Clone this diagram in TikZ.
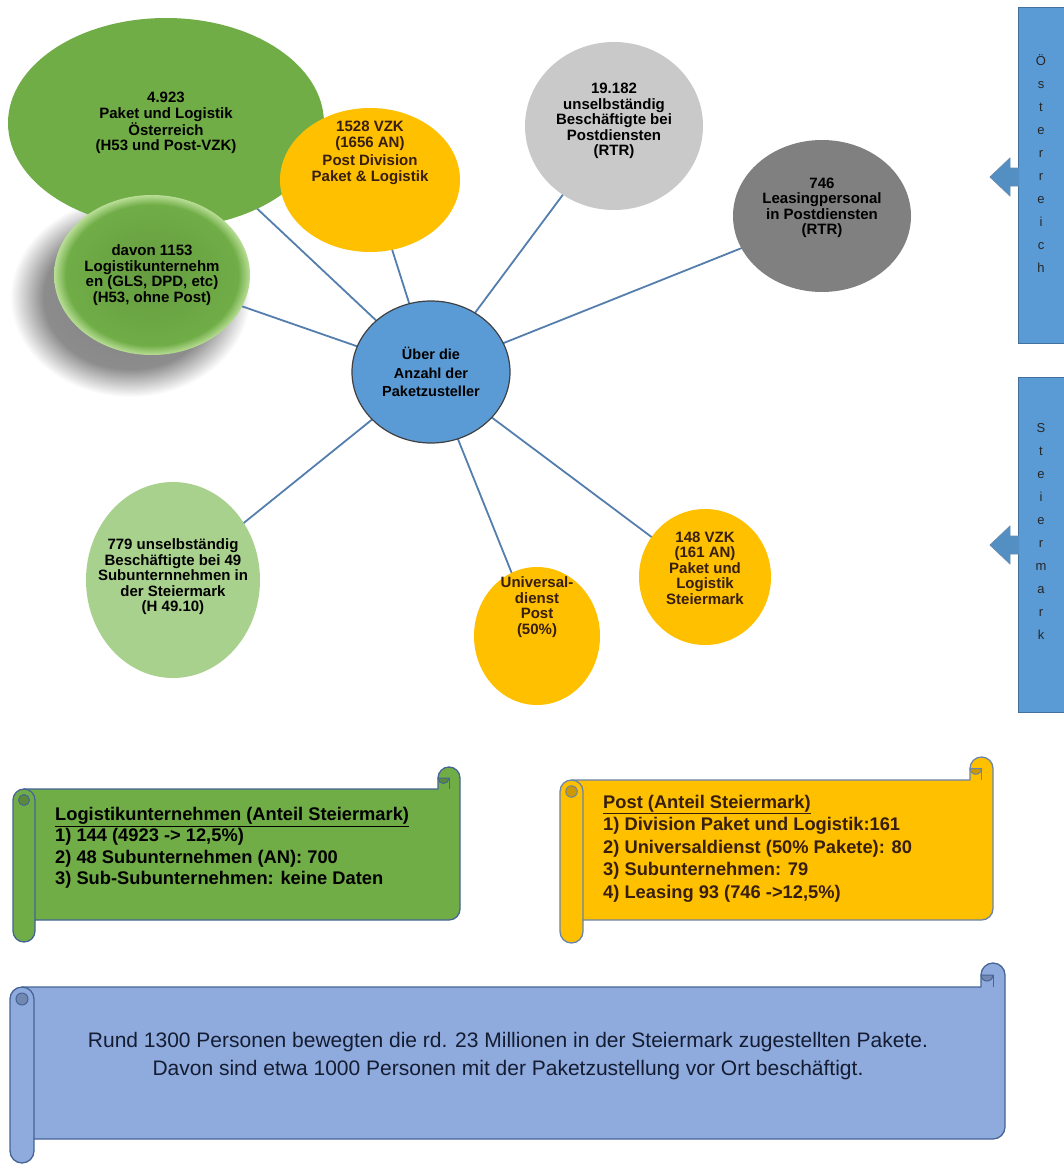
\documentclass[tikz,border=0pt]{standalone}
\usepackage{fontspec}
\setmainfont{Liberation Sans}
\usetikzlibrary{shapes.geometric,calc}
\pgfdeclarelayer{bgA}
\pgfdeclarelayer{bgB}
\pgfsetlayers{bgA,bgB,main}
\definecolor{cgreen}{RGB}{112,173,71}
\definecolor{cgreenlt}{RGB}{169,209,142}
\definecolor{cgreenrim}{RGB}{185,222,150}
\definecolor{corange}{RGB}{255,192,0}
\definecolor{cgraylt}{RGB}{201,201,201}
\definecolor{cgraydk}{RGB}{128,128,128}
\definecolor{cblue}{RGB}{91,155,213}
\definecolor{cbluedk}{RGB}{65,113,156}
\definecolor{cline}{RGB}{84,126,174}
\definecolor{cscrollblue}{RGB}{143,170,220}
\definecolor{cscrolledge}{RGB}{70,100,150}
\definecolor{ctxtorange}{RGB}{55,30,15}
\definecolor{ctxtblue}{RGB}{20,28,50}
\pgfdeclareradialshading{shadowfade}{\pgfpoint{0bp}{0bp}}{color(0bp)=(black!50); color(18bp)=(black!45); color(25bp)=(white); color(50bp)=(white)}
\pgfdeclareradialshading{davonshade}{\pgfpoint{0bp}{0bp}}{color(0bp)=(cgreen!90!black); color(22bp)=(cgreen); color(25bp)=(cgreenrim); color(50bp)=(cgreenrim)}
\newcommand\myscroll[7]{%
 \pgfmathsetmacro\sL{#1}\pgfmathsetmacro\sT{#2}\pgfmathsetmacro\sR{#3}%
 \pgfmathsetmacro\sB{#4}\pgfmathsetmacro\sC{#5}\pgfmathsetmacro\sH{\sC/2}%
 \pgfmathsetmacro\sQ{\sC/4}%
 \pgfmathsetmacro\yt{\sT+\sC}\pgfmathsetmacro\yb{\sB-\sC}%
 \filldraw[fill=#6,draw=#7,line width=1.3pt,line join=round]
   ({\sL+\sH},{-\yt}) -- ({\sR-\sC},{-\yt}) -- ({\sR-\sC},{-\sT-\sH})
   arc[start angle=180,end angle=0,radius=\sH pt] -- (\sR,{-\yb+\sH})
   arc[start angle=0,end angle=-90,radius=\sH pt] -- ({\sL+\sC},{-\yb})
   -- ({\sL+\sC},{-\sB+\sH})
   arc[start angle=0,end angle=-180,radius=\sH pt] -- (\sL,{-\yt-\sH})
   arc[start angle=180,end angle=90,radius=\sH pt] -- cycle;
 \draw[draw=#7,line width=1.3pt] ({\sL+\sH},{-\yt}) arc[start angle=90,end angle=0,radius=\sH pt] -- ({\sL+\sC},{-\yb});
 \filldraw[fill=#6!80!black,draw=#7,line width=1pt] ({\sL+\sH},{-\yt-\sH}) circle[radius=\sQ pt];
 \filldraw[fill=#6!80!black,draw=#7,line width=1pt] ({\sR-\sH},{-\sT-\sH}) arc[start angle=0,end angle=-180,radius=\sQ pt] -- cycle;
 \draw[draw=#7,line width=1pt] ({\sR-\sH},{-\sT-\sH}) -- ({\sR-\sH},{-\yt});
}
\begin{document}
\begin{tikzpicture}[x=1pt,y=1pt,
  bub/.style={ellipse, inner sep=0pt, align=center, font=\bfseries\fontsize{15}{15.5}\selectfont},
  txt/.style={inner sep=0pt, align=center, font=\bfseries\fontsize{15}{15.5}\selectfont},
  conn/.style={draw=cline, line width=1.8pt},
  scrolltxt/.style={inner sep=0pt, align=left, anchor=north west, font=\bfseries\fontsize{18.3}{21.5}\selectfont},
  bannertxt/.style={inner sep=0pt, align=center, text=black!85, font=\fontsize{13}{23}\selectfont},
  bannerbox/.style={fill=cblue, draw=cbluedk, line width=1pt},
  bannerarrow/.style={fill=cblue!92!black, draw=cbluedk!80, line width=0.8pt, line join=round}
]
\useasboundingbox (0,0) rectangle (1064,-1164);
\begin{pgfonlayer}{bgA}
  \fill[white] (0,0) rectangle (1064,-1164);
  \shade[shading=shadowfade] (130,-297) ellipse [x radius=120, y radius=100];
\end{pgfonlayer}

% bubbles
\node[bub, fill=cgreen, minimum width=316pt, minimum height=210pt] (big) at (166,-123)
  {4.923\\Paket und Logistik\\Österreich\\(H53 und Post-VZK)};
\node[bub, shade, shading=davonshade, minimum width=196pt, minimum height=160pt] (davon) at (152,-275)
  {davon 1153\\Logistikunternehm\\en (GLS, DPD, etc)\\(H53, ohne Post)};
\node[bub, fill=corange, minimum width=180pt, minimum height=144pt] (o1) at (370,-180) {};
\node[txt, text=ctxtorange] (o1t) at (370,-153) {1528 VZK\\(1656 AN)\\[3pt]Post Division\\Paket \& Logistik};
\node[bub, fill=cgraylt, minimum width=178pt, minimum height=168pt] (g1) at (614,-126) {};
\node[txt] (g1t) at (614,-121) {19.182\\unselbständig\\Beschäftigte bei\\Postdiensten\\(RTR)};
\node[bub, fill=cgraydk, minimum width=178pt, minimum height=152pt] (g2) at (822,-216) {};
\node[txt] (g2t) at (822,-208) {746\\Leasingpersonal\\in Postdiensten\\(RTR)};
\node[bub, fill=cblue, draw=black!75, line width=1.2pt, minimum width=158pt, minimum height=142pt,
  font=\bfseries\fontsize{14.5}{18.5}\selectfont] (ctr) at (431,-372) {Über die\\Anzahl der\\Paketzusteller};
\node[bub, fill=cgreenlt, minimum width=174pt, minimum height=196pt] (lg) at (173,-580) {};
\node[txt] (lgt) at (173,-577) {779 unselbständig\\Beschäftigte bei 49\\Subunternnehmen in\\der Steiermark\\(H 49.10)};
\node[bub, fill=corange, minimum width=126pt, minimum height=138pt] (uni) at (537,-636) {};
\node[txt, text=ctxtorange] (unit) at (537,-607) {Universal-\\dienst\\Post\\(50\%)};
\node[bub, fill=corange, minimum width=132pt, minimum height=136pt] (o2) at (705,-577) {};
\node[txt, text=ctxtorange] (o2t) at (705,-568) {148 VZK\\(161 AN)\\Paket und\\Logistik\\Steiermark};

% connectors
\begin{pgfonlayer}{bgB}
  \foreach \n in {big,davon,o1,g1,g2,lg,uni,o2}
    \draw[conn] (ctr.center) -- (\n.center);
\end{pgfonlayer}

% right banners
\draw[bannerbox] (1018,-8) rectangle (1070,-343);
\filldraw[bannerarrow] (1019,-168) -- (1010,-168) -- (1010,-158) -- (990,-177) -- (1010,-196) -- (1010,-186) -- (1019,-186);
\node[bannertxt] (oel) at (1041,-164) {Ö\\s\\t\\e\\r\\r\\e\\i\\c\\h};
\draw[bannerbox] (1018,-377) rectangle (1070,-712);
\filldraw[bannerarrow] (1019,-536) -- (1010,-536) -- (1010,-526) -- (990,-545) -- (1010,-564) -- (1010,-554) -- (1019,-554);
\node[bannertxt] (stl) at (1041,-531) {S\\t\\e\\i\\e\\r\\m\\a\\r\\k};

% scrolls
\myscroll{13}{767}{460}{942}{22}{cgreen}{cscrolledge}
\node[scrolltxt] (gs) at (55,-807) {\underline{Logistikunternehmen (Anteil Steiermark)}\\
1) 144 (4923 -> 12,5\%)\\
2) 48 Subunternehmen (AN): 700\\
3) Sub-Subunternehmen: keine Daten};

\myscroll{560}{757}{993}{943}{23}{corange}{cscrolledge!80}
\node[scrolltxt, text=ctxtorange, font=\bfseries\fontsize{18.3}{22.5}\selectfont] (os) at (603,-795) {\underline{Post (Anteil Steiermark)}\\
1) Division Paket und Logistik:161\\
2) Universaldienst (50\% Pakete): 80\\
3) Subunternehmen: 79\\
4) Leasing 93 (746 ->12,5\%)};

\myscroll{10}{963}{1005}{1163}{24}{cscrollblue}{cscrolledge}
\node[inner sep=0pt, align=center, text=ctxtblue, font=\fontsize{21}{28}\selectfont] (bs) at (508,-1056)
  {Rund 1300 Personen bewegten die rd. 23 Millionen in der Steiermark zugestellten Pakete.\\
   Davon sind etwa 1000 Personen mit der Paketzustellung vor Ort beschäftigt.};
\end{tikzpicture}
\end{document}
